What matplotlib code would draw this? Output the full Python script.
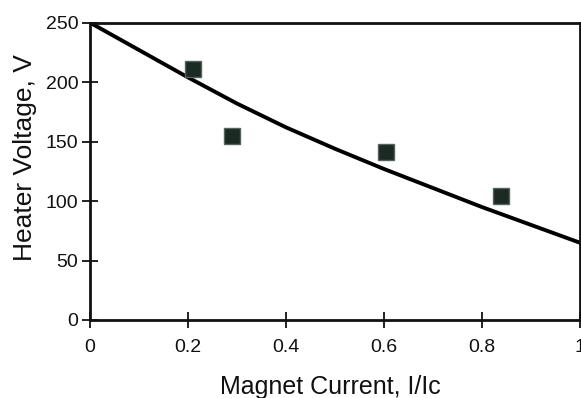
import matplotlib
matplotlib.use("Agg")
import matplotlib.pyplot as plt

# measured heater voltage (squares)
meas_current = [0.21, 0.29, 0.605, 0.84]
meas_voltage = [211, 155, 141, 104]

# model curve
curve_current = [0.0, 0.1, 0.2, 0.3, 0.4, 0.5, 0.6, 0.7, 0.8, 0.9, 1.0]
curve_voltage = [250, 227, 204, 182, 162, 144, 127, 111, 95, 80, 65]

x_ticks = [0, 0.2, 0.4, 0.6, 0.8, 1]
x_tick_labels = ["0", "0.2", "0.4", "0.6", "0.8", "1"]
y_ticks = [0, 50, 100, 150, 200, 250]

plt.rcParams["font.family"] = ["Liberation Sans", "DejaVu Sans"]

fig = plt.figure(figsize=(5.81, 3.98), dpi=100)
ax = fig.add_axes([0.155, 0.196, 0.843, 0.747])

ax.plot(curve_current, curve_voltage, color="black", lw=2.8, solid_capstyle="round",
        solid_joinstyle="round")
ax.plot(meas_current, meas_voltage, linestyle="none", marker="s", markersize=12,
        markerfacecolor="#1c2a24", markeredgecolor="#56625c", markeredgewidth=1)

ax.set_xlim(0, 1)
ax.set_ylim(0, 250)
ax.set_xticks(x_ticks)
ax.set_xticklabels(x_tick_labels)
ax.set_yticks(y_ticks)

for s in ax.spines.values():
    s.set_linewidth(2.0)
    s.set_color("#111111")

ax.tick_params(direction="inout", length=11, width=1.3, labelsize=14, colors="#111111",
               top=False, right=False)
ax.tick_params(axis="x", pad=8)
ax.tick_params(axis="y", pad=3)

ax.set_xlabel("Magnet Current, I/Ic", fontsize=18, color="#111111")
ax.set_ylabel("Heater Voltage, V", fontsize=19, color="#111111")
ax.xaxis.set_label_coords(0.49, -0.185)
ax.yaxis.set_label_coords(-0.108, 0.545)

fig.savefig("out.png", dpi=100)
